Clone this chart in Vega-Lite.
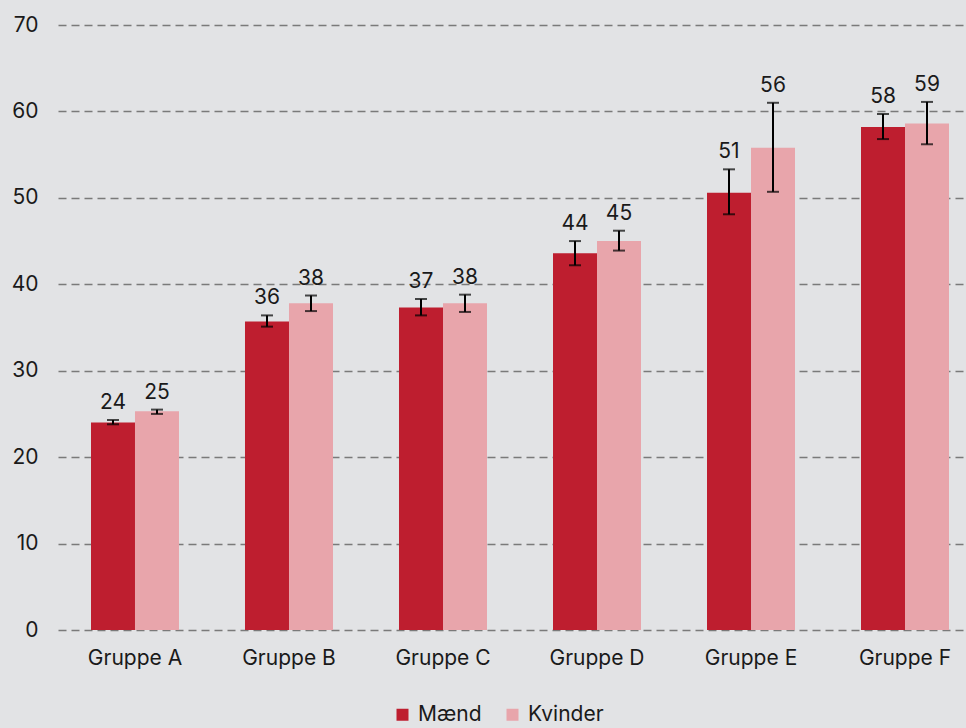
{
  "$schema": "https://vega.github.io/schema/vega-lite/v6.json",
  "width": 908,
  "height": 605,
  "autosize": {"type": "none"},
  "padding": {"left": 58, "top": 25, "right": 0, "bottom": 98},
  "background": "#e2e3e5",
  "config": {
    "view": {"stroke": null},
    "font": "Inter",
    "axis": {"labelFont": "Inter", "labelFontSize": 21, "labelColor": "#1a1a1a"},
    "legend": {"labelFont": "Inter", "labelFontSize": 21, "labelColor": "#1a1a1a"}
  },
  "data": {
    "values": [
      {"group": "Gruppe A", "sex": "Mænd", "value": 24.0, "lo": 23.8, "hi": 24.3, "label": "24"},
      {"group": "Gruppe A", "sex": "Kvinder", "value": 25.3, "lo": 25.0, "hi": 25.5, "label": "25"},
      {"group": "Gruppe B", "sex": "Mænd", "value": 35.7, "lo": 35.1, "hi": 36.4, "label": "36"},
      {"group": "Gruppe B", "sex": "Kvinder", "value": 37.8, "lo": 36.9, "hi": 38.7, "label": "38"},
      {"group": "Gruppe C", "sex": "Mænd", "value": 37.3, "lo": 36.4, "hi": 38.3, "label": "37"},
      {"group": "Gruppe C", "sex": "Kvinder", "value": 37.8, "lo": 36.8, "hi": 38.8, "label": "38"},
      {"group": "Gruppe D", "sex": "Mænd", "value": 43.6, "lo": 42.2, "hi": 45.0, "label": "44"},
      {"group": "Gruppe D", "sex": "Kvinder", "value": 45.0, "lo": 43.9, "hi": 46.2, "label": "45"},
      {"group": "Gruppe E", "sex": "Mænd", "value": 50.6, "lo": 48.1, "hi": 53.3, "label": "51"},
      {"group": "Gruppe E", "sex": "Kvinder", "value": 55.8, "lo": 50.7, "hi": 61.0, "label": "56"},
      {"group": "Gruppe F", "sex": "Mænd", "value": 58.2, "lo": 56.8, "hi": 59.7, "label": "58"},
      {"group": "Gruppe F", "sex": "Kvinder", "value": 58.6, "lo": 56.2, "hi": 61.1, "label": "59"}
    ]
  },
  "encoding": {
    "x": {
      "field": "group", "type": "nominal", "title": null,
      "scale": {"paddingInner": 0.4286, "paddingOuter": 0.1623, "align": 0.66},
      "axis": {"labelAngle": 0, "domain": false, "ticks": false, "labelPadding": 17, "grid": false}
    },
    "xOffset": {"field": "sex", "type": "nominal", "sort": ["Mænd", "Kvinder"], "scale": {"paddingInner": 0, "paddingOuter": 0}}
  },
  "layer": [
    {
      "mark": {"type": "bar"},
      "encoding": {
        "y": {
          "field": "value", "type": "quantitative", "title": null,
          "scale": {"domain": [0, 70], "nice": false},
          "axis": {
            "values": [0, 10, 20, 30, 40, 50, 60, 70],
            "domain": false, "ticks": false, "labelPadding": 20,
            "grid": true, "gridDash": [8, 5], "gridColor": "#7a7a7a", "gridWidth": 1.5, "gridOpacity": 1
          }
        },
        "color": {
          "field": "sex", "type": "nominal", "title": null,
          "sort": ["Mænd", "Kvinder"],
          "scale": {"domain": ["Mænd", "Kvinder"], "range": ["#be1e2f", "#e8a5ab"]},
          "legend": {
            "orient": "none", "legendX": 334, "legendY": 679, "direction": "horizontal", "symbolType": "square",
            "symbolSize": 144, "symbolStrokeWidth": 0, "columnPadding": 20, "labelOffset": 5, "padding": 0
          }
        }
      }
    },
    {
      "mark": {"type": "rule", "color": "#000000", "strokeWidth": 2},
      "encoding": {
        "y": {"field": "lo", "type": "quantitative"},
        "y2": {"field": "hi"}
      }
    },
    {
      "mark": {"type": "tick", "color": "#000000", "thickness": 2, "size": 12},
      "encoding": {"y": {"field": "lo", "type": "quantitative"}}
    },
    {
      "mark": {"type": "tick", "color": "#000000", "thickness": 2, "size": 12},
      "encoding": {"y": {"field": "hi", "type": "quantitative"}}
    },
    {
      "mark": {"type": "text", "baseline": "bottom", "dy": -7, "fontSize": 21, "font": "Inter", "color": "#1a1a1a"},
      "encoding": {
        "y": {"field": "hi", "type": "quantitative"},
        "text": {"field": "label"}
      }
    }
  ]
}
